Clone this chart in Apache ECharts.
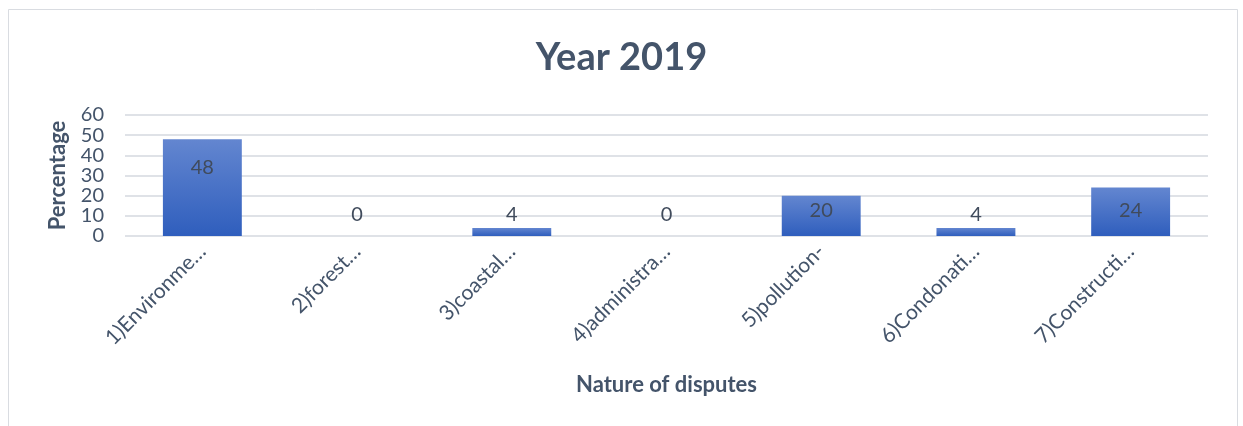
<!DOCTYPE html>
<html>
<head>
<meta charset="utf-8">
<style>
  html, body { margin: 0; padding: 0; background: #ffffff; }
  #chart { width: 1243px; height: 426px; }
</style>
<script src="https://cdn.jsdelivr.net/npm/echarts@6/dist/echarts.min.js"></script>
</head>
<body>
<div id="chart"></div>
<script>
// Categories as they appear on the axis (long names are cut with an ellipsis)
const categories = [
  '1)Environme…',
  '2)forest…',
  '3)coastal…',
  '4)administra…',
  '5)pollution-',
  '6)Condonati…',
  '7)Constructi…'
];
// Share of disputes per category, in percent
const percentages = [48, 0, 4, 0, 20, 4, 24];
const yTicks = { min: 0, max: 60, interval: 10 };

const textColor = '#44546a';
const font = 'Lato, "Liberation Sans", sans-serif';

// Label placement: tall bars get the value near the top, medium bars near the bottom,
// short or empty bars just above the bar.
function labelFor(v) {
  if (v >= 30) return { position: 'insideTop', distance: 18 };
  if (v >= 10) return { position: 'insideBottom', distance: 15 };
  return { position: 'top', distance: Math.max(2, 11 - v * 2) };
}

const barData = percentages.map(v => ({ value: v, label: labelFor(v) }));

const chart = echarts.init(document.getElementById('chart'), null, { renderer: 'canvas' });
chart.setOption({
  backgroundColor: '#ffffff',
  animation: false,
  textStyle: { fontFamily: font },
  title: {
    text: 'Year 2019',
    left: 'center',
    top: 34,
    textStyle: { fontFamily: font, fontSize: 38, fontWeight: 'bold', color: textColor }
  },
  graphic: [{
    type: 'rect',
    shape: { x: 8.5, y: 9.5, width: 1229, height: 440 },
    style: { fill: 'none', stroke: '#d9dce1', lineWidth: 1 },
    silent: true
  }],
  grid: { left: 125, right: 35, top: 115, bottom: 190, containLabel: false },
  xAxis: {
    type: 'category',
    data: categories,
    name: 'Nature of disputes',
    nameLocation: 'middle',
    nameGap: 138,
    nameTextStyle: { fontFamily: font, fontSize: 22, fontWeight: 'bold', color: textColor },
    axisLine: { show: false },
    axisTick: { show: false },
    axisLabel: { rotate: 45, fontSize: 21, color: textColor, margin: 12, interval: 0, fontFamily: font }
  },
  yAxis: {
    type: 'value',
    min: yTicks.min,
    max: yTicks.max,
    interval: yTicks.interval,
    name: 'Percentage',
    nameLocation: 'middle',
    nameGap: 56,
    nameTextStyle: { fontFamily: font, fontSize: 22, fontWeight: 'bold', color: textColor },
    axisLine: { show: false },
    axisTick: { show: false },
    axisLabel: { fontSize: 20, color: textColor, margin: 21, fontFamily: font },
    splitLine: { lineStyle: { color: '#dfe2e7', width: 2 } }
  },
  series: [{
    type: 'bar',
    data: barData,
    barWidth: '51%',
    itemStyle: {
      color: new echarts.graphic.LinearGradient(0, 0, 0, 1, [
        { offset: 0, color: '#6386d0' },
        { offset: 1, color: '#2f5ebd' }
      ])
    },
    label: {
      show: true,
      fontSize: 20,
      color: '#404b5c',
      fontFamily: font
    }
  }]
});
</script>
</body>
</html>
